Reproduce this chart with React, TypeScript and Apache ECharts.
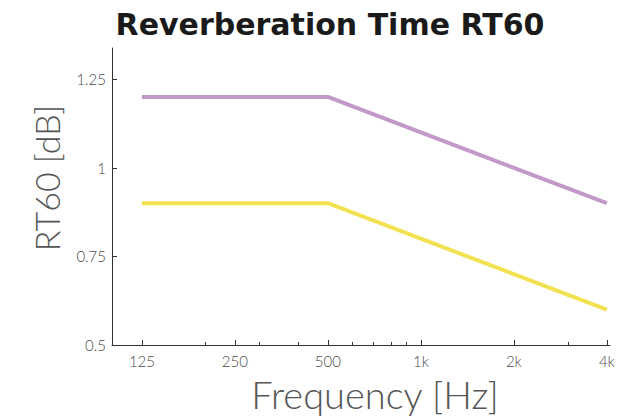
import React, { useEffect, useRef } from "react";
import * as echarts from "echarts";

const frequencies = [125, 250, 500, 1000, 2000, 4000];
const purpleValues = [1.2, 1.2, 1.2, 1.1, 1.0, 0.9];
const yellowValues = [0.9, 0.9, 0.9, 0.8, 0.7, 0.6];
const majorTicks = [125, 250, 500, 1000, 2000, 4000];
const majorLabels = ["125", "250", "500", "1k", "2k", "4k"];
const minorTicks = [200, 300, 400, 600, 700, 800, 900, 3000];
const yTicks = [0.5, 0.75, 1, 1.25];
const yLabels = ["0.5", "0.75", "1", "1.25"];

const L = (f: number) => Math.log2(f);

export default function App() {
  const ref = useRef<HTMLDivElement>(null);
  useEffect(() => {
    if (!ref.current) return;
    const chart = echarts.init(ref.current, null, { renderer: "svg" });
    const xMin = L(100);
    const xMax = L(4096);
    const labelFont = "Lato";
    chart.setOption({
      animation: false,
      backgroundColor: "#ffffff",
      grid: { left: 112, right: 10, top: 48, bottom: 73, containLabel: false },
      xAxis: [
        {
          type: "value",
          min: xMin,
          max: xMax,
          axisLine: { show: true, lineStyle: { color: "#333", width: 1 } },
          axisTick: {
            show: true,
            inside: true,
            length: 5,
            customValues: majorTicks.map(L),
            lineStyle: { color: "#333" },
          },
          axisLabel: {
            show: true,
            customValues: majorTicks.map(L),
            margin: 8,
            color: "#4a4a4a",
            fontFamily: labelFont,
            fontWeight: 300,
            fontSize: 15,
            formatter: (v: number) => {
              const i = majorTicks.findIndex((f) => Math.abs(L(f) - v) < 1e-6);
              return i >= 0 ? majorLabels[i] : "";
            },
          },
          splitLine: { show: false },
        },
        {
          type: "value",
          position: "bottom",
          min: xMin,
          max: xMax,
          axisLine: { show: false },
          axisTick: {
            show: true,
            inside: true,
            length: 3,
            customValues: minorTicks.map(L),
            lineStyle: { color: "#333" },
          },
          axisLabel: { show: false },
          splitLine: { show: false },
        },
      ],
      yAxis: {
        type: "value",
        min: 0.5,
        max: 1.338,
        axisLine: { show: true, lineStyle: { color: "#333", width: 1 } },
        axisTick: {
          show: true,
          inside: true,
          length: 5,
          customValues: yTicks,
          lineStyle: { color: "#333" },
        },
        axisLabel: {
          customValues: yTicks,
          margin: 6,
          color: "#4a4a4a",
          fontFamily: labelFont,
          fontWeight: 300,
          fontSize: 15,
          formatter: (v: number) => {
            const i = yTicks.findIndex((t) => Math.abs(t - v) < 1e-6);
            return i >= 0 ? yLabels[i] : "";
          },
        },
        splitLine: { show: false },
      },
      graphic: [
        {
          type: "text",
          x: 330,
          y: 24,
          style: {
            text: "Reverberation Time RT60",
            fontFamily: "DejaVu Sans",
            fontWeight: "bold",
            fontSize: 30,
            fill: "#1a1a1a",
            textAlign: "center",
            textVerticalAlign: "middle",
          },
        },
        {
          type: "text",
          x: 375,
          y: 394,
          style: {
            text: "Frequency [Hz]",
            fontFamily: labelFont,
            fontWeight: 300,
            fontSize: 38,
            fill: "#555",
            textAlign: "center",
            textVerticalAlign: "middle",
          },
        },
        {
          type: "text",
          x: 46,
          y: 178,
          rotation: Math.PI / 2,
          style: {
            text: "RT60 [dB]",
            fontFamily: labelFont,
            fontWeight: 300,
            fontSize: 34,
            fill: "#555",
            textAlign: "center",
            textVerticalAlign: "middle",
          },
        },
      ],
      series: [
        {
          type: "line",
          xAxisIndex: 0,
          data: frequencies.map((f, i) => [L(f), purpleValues[i]]),
          showSymbol: false,
          lineStyle: { color: "#c399c9", width: 4 },
          itemStyle: { color: "#c399c9" },
        },
        {
          type: "line",
          xAxisIndex: 0,
          data: frequencies.map((f, i) => [L(f), yellowValues[i]]),
          showSymbol: false,
          lineStyle: { color: "#f2e150", width: 4 },
          itemStyle: { color: "#f2e150" },
        },
      ],
    });
    return () => chart.dispose();
  }, []);
  return <div ref={ref} style={{ width: 620, height: 418, position: "absolute", left: 0, top: 0 }} />;
}
